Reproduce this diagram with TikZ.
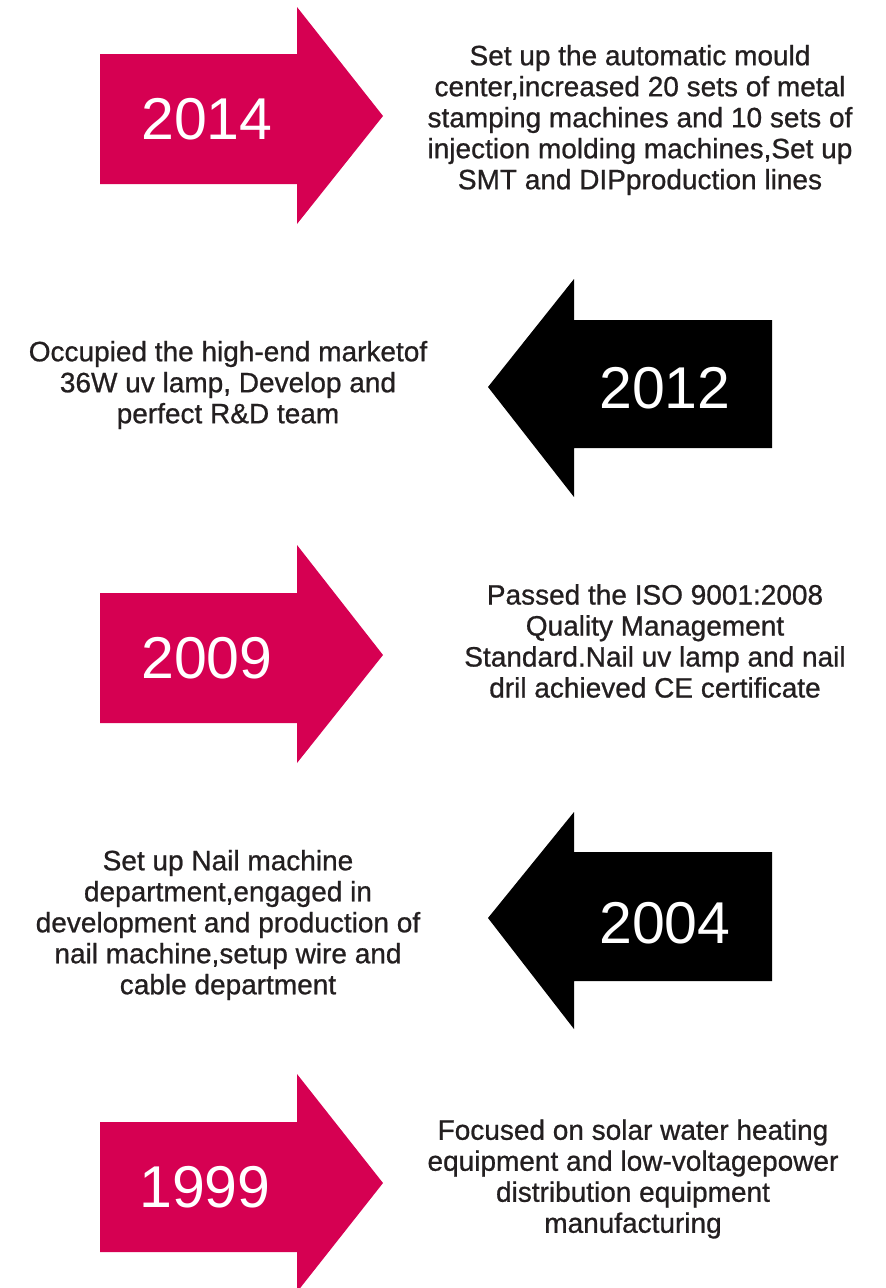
\documentclass[tikz,border=0pt]{standalone}
\usepackage{fontspec}
\setmainfont{Liberation Sans}
\newfontfamily\descfont[FakeBold=0.8]{Liberation Sans}
\usepackage{tikz}

\definecolor{rose}{RGB}{214,0,82}
\definecolor{ink}{RGB}{35,31,32}

\begin{document}
\begin{tikzpicture}[x=1pt, y=-1pt,
  year/.style={text=white, inner sep=0, font=\fontsize{59}{59}\selectfont},
  desc/.style={text=ink, inner sep=0, align=center, font=\descfont\fontsize{28}{31}\selectfont}]
\useasboundingbox (0,0) rectangle (886,1288);

% 2014 arrow (right)
\fill [rose] (100,54) -- (297,54) -- (297,7) -- (383,116) -- (297,224) -- (297,184) -- (100,184) -- cycle;
\node [year] (y2014) at (207,119) {2014};
\node [desc] (d2014) at (640,120) {Set up the automatic mould\\center,increased 20 sets of metal\\stamping machines and 10 sets of\\injection molding machines,Set up\\SMT and DIPproduction lines};

% 2012 arrow (left)
\fill [black] (772,320) -- (574,320) -- (574,279) -- (488,387) -- (574,497) -- (574,448) -- (772,448) -- cycle;
\node [year] (y2012) at (665,388) {2012};
\node [desc] (d2012) at (228,385) {Occupied the high-end marketof\\36W uv lamp, Develop and\\perfect R\&D team};

% 2009 arrow (right)
\fill [rose] (100,593) -- (297,593) -- (297,545) -- (383,655) -- (297,763) -- (297,723) -- (100,723) -- cycle;
\node [year] (y2009) at (207,658) {2009};
\node [desc] (d2009) at (655,641) {Passed the ISO 9001:2008\\Quality Management\\Standard.Nail uv lamp and nail\\dril achieved CE certificate};

% 2004 arrow (left)
\fill [black] (772,852) -- (574,852) -- (574,812) -- (488,918) -- (574,1029) -- (574,981) -- (772,981) -- cycle;
\node [year] (y2004) at (665,923) {2004};
\node [desc] (d2004) at (228,925) {Set up Nail machine\\department,engaged in\\development and production of\\nail machine,setup wire and\\cable department};

% 1999 arrow (right)
\fill [rose] (100,1122) -- (297,1122) -- (297,1074) -- (383,1183) -- (297,1292) -- (297,1252) -- (100,1252) -- cycle;
\node [year] (y1999) at (205,1187) {1999};
\node [desc] (d1999) at (633,1179) {Focused on solar water heating\\equipment and low-voltagepower\\distribution equipment\\manufacturing};
\end{tikzpicture}
\end{document}
